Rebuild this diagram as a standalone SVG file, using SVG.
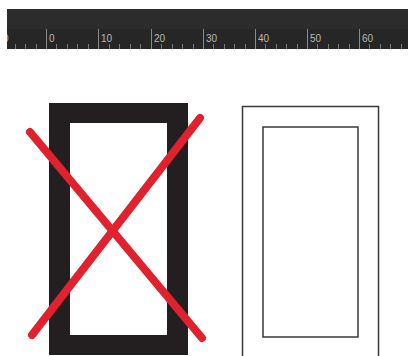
<svg xmlns="http://www.w3.org/2000/svg" width="408" height="356" viewBox="0 0 408 356">
<style>
.num{font-family:"Liberation Sans",Arial,sans-serif;font-size:10px;fill:#b8b8b8}
.maj{stroke:#8a8a8a;stroke-width:1}
.min{stroke:#7a7a7a;stroke-width:1}
.frame{fill:none;stroke:#3a3a3a;stroke-width:1.5}
.cross{stroke:#e0222e;stroke-width:8;stroke-linecap:round}
</style>
<defs>
<clipPath id="rc"><rect x="7" y="9" width="401" height="40"/></clipPath>
</defs>
<rect x="0" y="0" width="408" height="356" fill="#ffffff"/>
<g id="ruler" clip-path="url(#rc)">
<rect x="7" y="8" width="401" height="1" fill="#d0d0d0"/>
<rect x="7" y="9" width="401" height="20" fill="#2c2c2c"/>
<rect x="7" y="29" width="401" height="20" fill="#262626"/>
<g class="maj">
<line x1="46.5" y1="29" x2="46.5" y2="49"/>
<line x1="98.5" y1="29" x2="98.5" y2="49"/>
<line x1="151.5" y1="29" x2="151.5" y2="49"/>
<line x1="203.5" y1="29" x2="203.5" y2="49"/>
<line x1="255.5" y1="29" x2="255.5" y2="49"/>
<line x1="307.5" y1="29" x2="307.5" y2="49"/>
<line x1="359.5" y1="29" x2="359.5" y2="49"/>
</g>
<g class="min">
<line x1="15.5" y1="44" x2="15.5" y2="49"/><line x1="25.5" y1="44" x2="25.5" y2="49"/><line x1="36.5" y1="44" x2="36.5" y2="49"/>
<line x1="56.5" y1="44" x2="56.5" y2="49"/><line x1="67.5" y1="44" x2="67.5" y2="49"/><line x1="77.5" y1="44" x2="77.5" y2="49"/><line x1="88.5" y1="44" x2="88.5" y2="49"/>
<line x1="109.5" y1="44" x2="109.5" y2="49"/><line x1="119.5" y1="44" x2="119.5" y2="49"/><line x1="130.5" y1="44" x2="130.5" y2="49"/><line x1="140.5" y1="44" x2="140.5" y2="49"/>
<line x1="161.5" y1="44" x2="161.5" y2="49"/><line x1="172.5" y1="44" x2="172.5" y2="49"/><line x1="182.5" y1="44" x2="182.5" y2="49"/><line x1="193.5" y1="44" x2="193.5" y2="49"/>
<line x1="213.5" y1="44" x2="213.5" y2="49"/><line x1="224.5" y1="44" x2="224.5" y2="49"/><line x1="234.5" y1="44" x2="234.5" y2="49"/><line x1="245.5" y1="44" x2="245.5" y2="49"/>
<line x1="265.5" y1="44" x2="265.5" y2="49"/><line x1="276.5" y1="44" x2="276.5" y2="49"/><line x1="286.5" y1="44" x2="286.5" y2="49"/><line x1="297.5" y1="44" x2="297.5" y2="49"/>
<line x1="317.5" y1="44" x2="317.5" y2="49"/><line x1="328.5" y1="44" x2="328.5" y2="49"/><line x1="338.5" y1="44" x2="338.5" y2="49"/><line x1="349.5" y1="44" x2="349.5" y2="49"/>
<line x1="369.5" y1="44" x2="369.5" y2="49"/><line x1="380.5" y1="44" x2="380.5" y2="49"/><line x1="390.5" y1="44" x2="390.5" y2="49"/><line x1="401.5" y1="44" x2="401.5" y2="49"/>
</g>
<text class="num" x="3" y="42">0</text>
<text class="num" x="49" y="42">0</text>
<text class="num" x="101" y="42">10</text>
<text class="num" x="154" y="42">20</text>
<text class="num" x="206" y="42">30</text>
<text class="num" x="258" y="42">40</text>
<text class="num" x="310" y="42">50</text>
<text class="num" x="362" y="42">60</text>
</g>
<g id="wrong">
<path d="M49,103 H188 V355 H49 Z M70,123 V335 H167 V123 Z" fill="#231f20" fill-rule="evenodd"/>
<line class="cross" x1="30" y1="132" x2="202" y2="338"/>
<line class="cross" x1="200" y1="118" x2="32" y2="335"/>
</g>
<g id="right">
<rect class="frame" x="242.5" y="106.5" width="136" height="252"/>
<rect class="frame" x="263" y="127" width="95" height="210"/>
</g>
</svg>
